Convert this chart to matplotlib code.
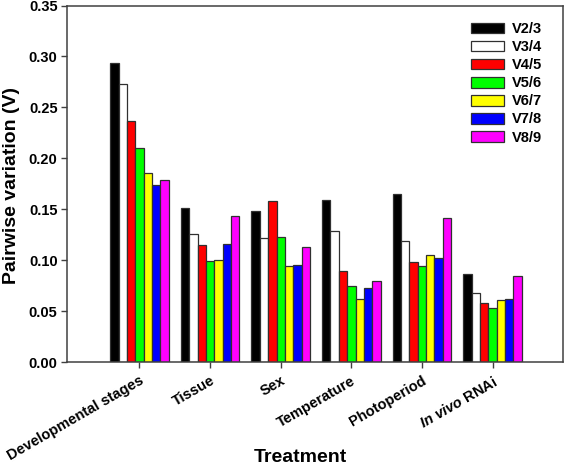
import matplotlib
matplotlib.use("Agg")
import matplotlib.pyplot as plt
import numpy as np

plt.rcParams['font.family'] = ['Liberation Sans', 'DejaVu Sans']
plt.rcParams['font.weight'] = 'bold'
plt.rcParams['mathtext.fontset'] = 'custom'
plt.rcParams['mathtext.rm'] = 'Liberation Sans:bold'
plt.rcParams['mathtext.bf'] = 'Liberation Sans:bold'
plt.rcParams['mathtext.it'] = 'Liberation Sans:italic:bold'
plt.rcParams['mathtext.bfit'] = 'Liberation Sans:italic:bold'

categories = ["Developmental stages", "Tissue", "Sex", "Temperature", "Photoperiod",
              r"$\mathbfit{In\ vivo}$ RNAi"]
series = ["V2/3", "V3/4", "V4/5", "V5/6", "V6/7", "V7/8", "V8/9"]
v23 = [0.294, 0.151, 0.148, 0.159, 0.165, 0.086]
v34 = [0.273, 0.126, 0.122, 0.129, 0.119, 0.068]
v45 = [0.237, 0.115, 0.158, 0.089, 0.098, 0.058]
v56 = [0.210, 0.099, 0.123, 0.075, 0.094, 0.053]
v67 = [0.186, 0.100, 0.094, 0.062, 0.105, 0.061]
v78 = [0.174, 0.116, 0.095, 0.073, 0.102, 0.062]
v89 = [0.179, 0.143, 0.113, 0.080, 0.141, 0.084]
values = [v23, v34, v45, v56, v67, v78, v89]
colors = ["#000000", "#ffffff", "#ff0000", "#00ff00", "#ffff00", "#0000ff", "#ff00ff"]

W, H = 566, 467
fig = plt.figure(figsize=(W / 100, H / 100), dpi=100)
ax = fig.add_axes([67.3 / W, 1 - 362 / H, (563.3 - 67.3) / W, (362 - 5.5) / H])

x = np.arange(len(categories))
w = 0.118
for i, (name, vals, c) in enumerate(zip(series, values, colors)):
    ax.bar(x + (i - 3) * w, vals, width=w, color=c, edgecolor="#303030",
           linewidth=0.9, label=name)

ax.set_xlim(-1.02, 6.0)
ax.set_ylim(0, 0.35)
yt = np.arange(0, 0.351, 0.05)
ax.set_yticks(yt)
ax.set_yticklabels([f"{t:.2f}" for t in yt], fontsize=10.5, fontweight='bold')
ax.set_xticks(x)
ax.set_xticklabels(categories, rotation=30, ha='right', rotation_mode='anchor',
                   fontsize=10.5, fontweight='bold')
ax.tick_params(axis='both', direction='out', length=4, width=1, color="#404040")
ax.tick_params(axis='y', pad=3)
ax.tick_params(axis='x', pad=4.5)
for s in ax.spines.values():
    s.set_color("#404040")
    s.set_linewidth(1.1)

fig.text(12 / W, 1 - 185 / H, "Pairwise variation (V)", rotation=90, ha='center',
         va='center', fontsize=14, fontweight='bold')
fig.text(300 / W, 1 - 458 / H, "Treatment", ha='center', va='center',
         fontsize=14, fontweight='bold')

leg = fig.legend(loc='upper left', bbox_to_anchor=(471 / W, 1 - 22 / H), frameon=False,
                 fontsize=10.5, handlelength=2.25, handleheight=0.75, labelspacing=0.28,
                 handletextpad=0.55, borderpad=0, borderaxespad=0)
for t in leg.get_texts():
    t.set_fontweight('bold')

fig.savefig("out.png", dpi=100)
